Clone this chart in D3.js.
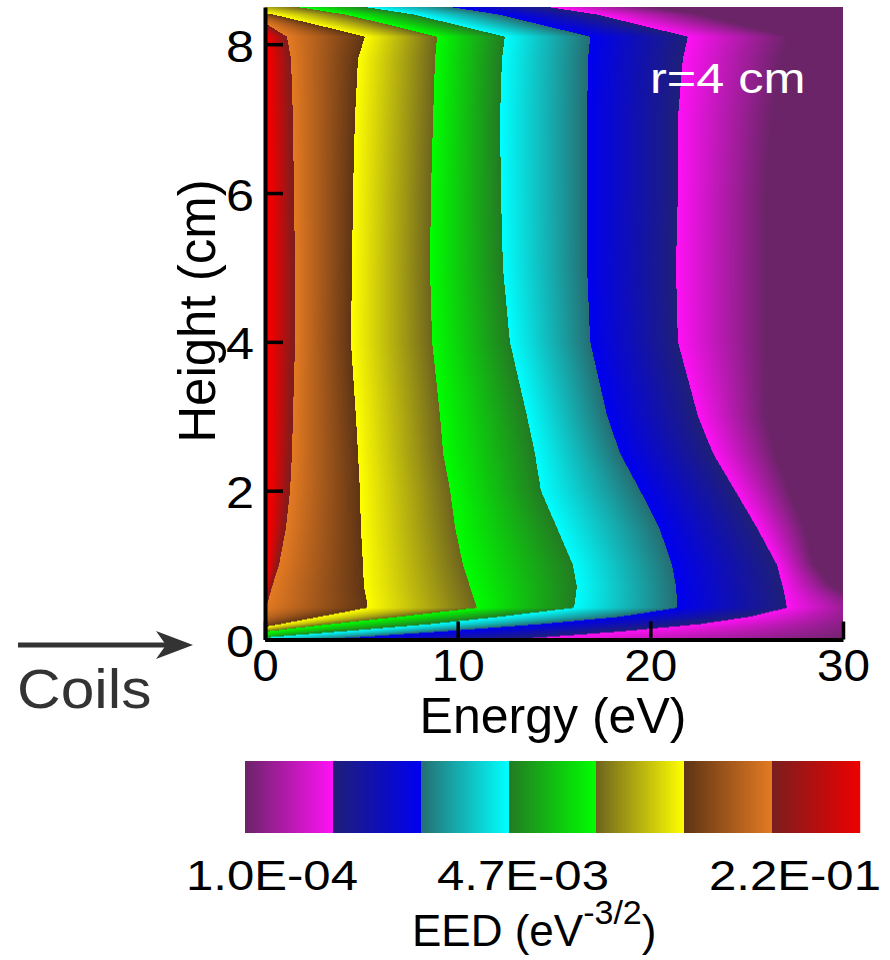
<!DOCTYPE html>
<html>
<head>
<meta charset="utf-8">
<script src="https://cdn.jsdelivr.net/npm/d3@7"></script>
<style>
  html, body { margin: 0; padding: 0; background: #fff; }
  svg { display: block; font-family: "Liberation Sans", Arial, Helvetica, sans-serif; }
</style>
</head>
<body>
<svg id="chart" width="890" height="960"></svg>
<script>
// ---- Contour levels: seven EED bands, each a factor of 3 wide, from 1.0E-04 ----
const levelMin = 1.0e-4;
const levelRatio = 3;
const bandCount = 7;

// Heights (cm) at which the contour crossings are tabulated
const heights = [0, 0.1, 0.2, 0.3, 0.42, 0.5, 0.7, 1.0, 1.5, 2.0, 2.5, 3.0, 4.0, 5.0, 6.0, 7.0, 7.8, 8.1, 8.25, 8.4, 8.5];

// Energy (eV) at which EED falls to level k = 1e-4 * 3^k, at each height
const crossLevel7 = [-5, -4, -3, -2, -1, -0.2, 0.05, 0.2, 0.3, 0.35, 0.35, 0.35, 0.35, 0.35, 0.35, 0.3, 0.3, 0.2, -0.5, -2, -4];
const crossLevel6 = [-4, -3, -2, -1, -0.1, 0.15, 0.36, 0.73, 1.09, 1.30, 1.40, 1.45, 1.56, 1.56, 1.50, 1.45, 1.35, 1.14, 0.2, -1, -3];
const crossLevel5 = [-3, -1.5, 0.78, 2.85, 5.3, 5.3, 5.14, 5.09, 4.98, 4.93, 4.83, 4.72, 4.46, 4.52, 4.57, 4.67, 4.83, 5.19, 2.85, 0.42, -2];
const crossLevel4 = [-1.5, 0, 3.37, 7.0, 11.0, 10.9, 10.64, 10.27, 9.86, 9.6, 9.24, 9.08, 8.67, 8.56, 8.61, 8.72, 8.82, 8.93, 6.6, 4.15, 1.66];
const crossLevel3 = [-1, 3.89, 8.56, 12.2, 16.04, 16.09, 16.19, 15.98, 15.15, 14.32, 14.01, 13.6, 12.71, 12.35, 12.25, 12.2, 12.3, 12.45, 10.1, 7.7, 5.2];
const crossLevel2 = [3.37, 9.08, 14.27, 18.42, 21.38, 21.38, 21.33, 21.12, 20.45, 19.46, 18.42, 17.75, 16.87, 16.71, 16.71, 16.71, 16.76, 16.87, 14.5, 12.1, 9.6];
const crossLevel1 = [13.23, 18.42, 22.57, 25.17, 27.09, 27.04, 26.88, 26.57, 25.53, 24.39, 23.25, 22.47, 21.43, 21.33, 21.43, 21.43, 21.69, 21.95, 19.6, 17.2, 14.7];
const crossLevel0 = [31, 32, 32, 32, 31.5, 31, 29.5, 28.5, 28.0, 27.2, 26.5, 26.0, 26.0, 26.0, 26.0, 26.3, 26.8, 27.2, 24.9, 22.6, 20];

// Axis ticks and legend labels
const energyTicks = [0, 10, 20, 30];
const heightTicks = [0, 2, 4, 6, 8];
const legendLabels = ["1.0E-04", "4.7E-03", "2.2E-01"];

// Each band runs from a dark shade (low EED) to a bright shade (high EED)
const bandDark   = ["#6b2468", "#1f1f78", "#256e72", "#237a23", "#6e641e", "#5e3414", "#7a1e1e"];
const bandBright = ["#ff10f5", "#0000f0", "#00ffff", "#00ff00", "#ffff00", "#e47a22", "#ee0000"];

// ---- Layout ----
const svg = d3.select("#chart");
const plot = { left: 265, right: 843, top: 7, bottom: 639.5 };
const x = d3.scaleLinear().domain([0, 30]).range([plot.left, plot.right]);
const y = d3.scaleLinear().domain([0, 8.5]).range([plot.bottom, plot.top]);

const logMin = Math.log10(levelMin);
const logStep = Math.log10(levelRatio);
const levels = d3.range(bandCount + 1).map(k => logMin + k * logStep);
const logMax = levels[bandCount];

// Colour for a log10(EED) value
const colorLUTSize = 2048;
const lut = d3.range(colorLUTSize).map(i => {
  const u = i / (colorLUTSize - 1) * bandCount;
  let b = Math.floor(u);
  if (b >= bandCount) b = bandCount - 1;
  const t = Math.min(1, u - b);
  return d3.rgb(d3.interpolateRgb(bandDark[b], bandBright[b])(t));
});
function colorOfLog(v) {
  const u = Math.max(0, Math.min(1, (v - logMin) / (logMax - logMin)));
  return lut[Math.round(u * (colorLUTSize - 1))];
}

// Crossing energies interpolated in height
const crossings = [crossLevel0, crossLevel1, crossLevel2, crossLevel3, crossLevel4, crossLevel5, crossLevel6, crossLevel7];
const crossScales = crossings.map(c => d3.scaleLinear().domain(heights).range(c).clamp(true));

function logEED(E, Eb) {
  if (E <= Eb[bandCount]) return levels[bandCount];
  if (E >= Eb[0]) return levels[0];
  for (let k = bandCount; k > 0; k--) {
    if (E <= Eb[k - 1]) {
      const t = (E - Eb[k]) / (Eb[k - 1] - Eb[k]);
      return levels[k] + t * (levels[k - 1] - levels[k]);
    }
  }
  return levels[0];
}

// ---- Field raster ----
const pw = Math.round(plot.right - plot.left);
const ph = Math.round(plot.bottom - plot.top);
const canvas = document.createElement("canvas");
canvas.width = pw; canvas.height = ph;
const ctx = canvas.getContext("2d");
const img = ctx.createImageData(pw, ph);
for (let j = 0; j < ph; j++) {
  const h = y.invert(plot.top + j + 0.5);
  const Eb = crossScales.map(s => s(h));
  for (let i = 0; i < pw; i++) {
    const E = x.invert(plot.left + i + 0.5);
    const c = colorOfLog(logEED(E, Eb));
    const p = (j * pw + i) * 4;
    img.data[p] = c.r; img.data[p + 1] = c.g; img.data[p + 2] = c.b; img.data[p + 3] = 255;
  }
}
ctx.putImageData(img, 0, 0);
svg.append("image")
  .attr("x", plot.left).attr("y", plot.top)
  .attr("width", plot.right - plot.left).attr("height", plot.bottom - plot.top)
  .attr("preserveAspectRatio", "none")
  .attr("href", canvas.toDataURL());

// ---- Axes ----
const tickLen = 18;
const yAxis = svg.append("g")
  .attr("transform", `translate(${plot.left},0)`)
  .call(d3.axisLeft(y).tickValues(heightTicks).tickFormat(d3.format("d")).tickSizeInner(-tickLen).tickSizeOuter(0).tickPadding(11));
const xAxis = svg.append("g")
  .attr("transform", `translate(0,${plot.bottom})`)
  .call(d3.axisBottom(x).tickValues(energyTicks).tickFormat(d3.format("d")).tickSizeInner(-tickLen).tickSizeOuter(0).tickPadding(10));

[yAxis, xAxis].forEach(a => {
  a.select(".domain").attr("stroke", "#000").attr("stroke-width", 4);
  a.selectAll(".tick line").attr("stroke", "#000").attr("stroke-width", 3.5);
  a.selectAll(".tick text").attr("fill", "#000").attr("font-size", 45);
});
yAxis.selectAll(".tick text")
  .attr("x", null).attr("dy", "0.38em")
  .attr("transform", "translate(-11,0) scale(1.12,1)");
xAxis.selectAll(".tick text")
  .attr("transform", "scale(1.06,1)");

// Axis titles
svg.append("text")
  .attr("x", 553).attr("y", 733)
  .attr("text-anchor", "middle").attr("font-size", 50).attr("fill", "#000")
  .text("Energy (eV)");
svg.append("text")
  .attr("transform", "translate(215,311) rotate(-90)")
  .attr("text-anchor", "middle").attr("font-size", 51).attr("fill", "#000")
  .text("Height (cm)");

// Radius annotation
svg.append("text")
  .attr("transform", "translate(650,93) scale(1.2,1)")
  .attr("font-size", 42).attr("fill", "#fff")
  .text("r=4 cm");

// Coil position marker
svg.append("line")
  .attr("x1", 18).attr("y1", 645).attr("x2", 170).attr("y2", 645)
  .attr("stroke", "#333").attr("stroke-width", 5);
svg.append("path")
  .attr("d", "M193,645 L156,631 L166,645 L156,659 Z")
  .attr("fill", "#333");
svg.append("text")
  .attr("transform", "translate(17,708) scale(1.08,1)")
  .attr("font-size", 56).attr("fill", "#333")
  .text("Coils");

// ---- Colour bar ----
const bar = { left: 245, right: 860, top: 761, bottom: 833 };
const cb = d3.scaleLog().domain([levelMin, Math.pow(10, logMax)]).range([bar.left, bar.right]);
const barSteps = d3.range(bar.left, bar.right, 1);
svg.append("g").selectAll("rect").data(barSteps).join("rect")
  .attr("x", d => d).attr("y", bar.top)
  .attr("width", 1.2).attr("height", bar.bottom - bar.top)
  .attr("fill", d => colorOfLog(Math.log10(cb.invert(d + 0.5))));

const legendX = [272, 523, 795];
svg.append("g").selectAll("text").data(legendLabels).join("text")
  .attr("transform", (d, i) => `translate(${legendX[i]},890) scale(1.17,1)`)
  .attr("text-anchor", "middle").attr("font-size", 42).attr("fill", "#000")
  .text(d => d);

const eedTitle = svg.append("text")
  .attr("x", 412).attr("y", 946)
  .attr("font-size", 44).attr("fill", "#000");
eedTitle.append("tspan").text("EED (eV");
eedTitle.append("tspan").attr("font-size", 34).attr("dy", -22).text("-3/2");
eedTitle.append("tspan").attr("dy", 22).text(")");
</script>
</body>
</html>
